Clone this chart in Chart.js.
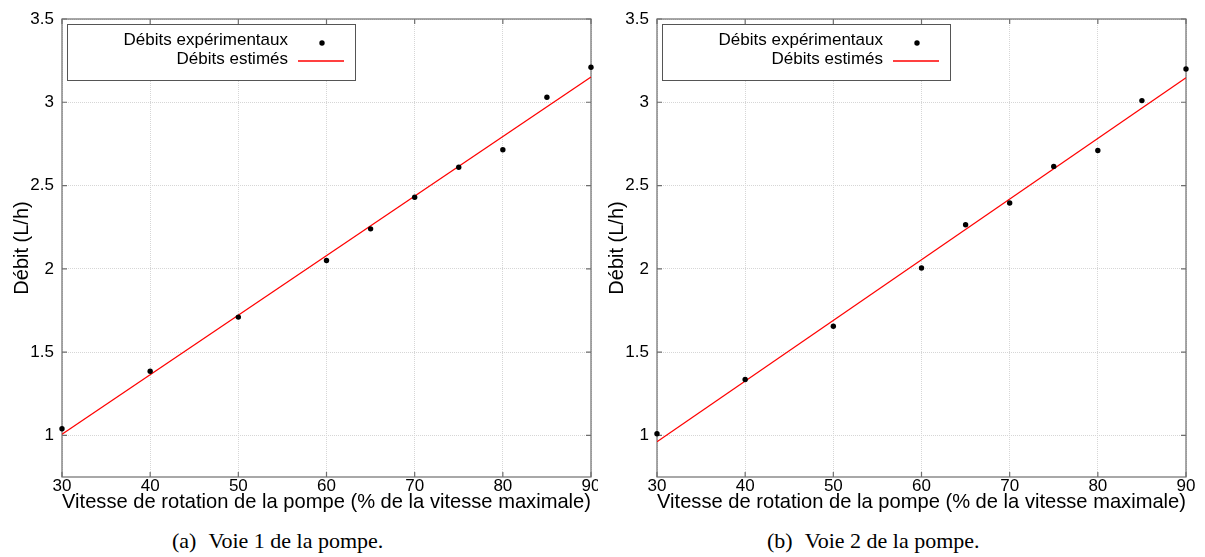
<!DOCTYPE html>
<html>
<head>
<meta charset="utf-8">
<script src="https://cdn.jsdelivr.net/npm/chart.js@4.4.1/dist/chart.umd.min.js"></script>
<style>
    html, body { margin: 0; padding: 0; background: #fff; }
    body { width: 1205px; height: 557px; position: relative; overflow: hidden; }
    .panel { position: absolute; top: 0; height: 520px; overflow: hidden; }
    .caption {
        position: absolute; top: 528px;
        font-family: "Liberation Serif", serif; font-size: 22px; line-height: 26px;
        white-space: nowrap; color: #000;
    }
    .caption span { margin-left: 12px; }
</style>
</head>
<body>
<div class="panel" style="left:0;width:598px"><canvas id="voie1" width="610" height="520"></canvas></div>
<div class="panel" style="left:595px;width:610px"><canvas id="voie2" width="610" height="520"></canvas></div>
<div class="caption" style="left:172px">(a)<span>Voie 1 de la pompe.</span></div>
<div class="caption" style="left:767px">(b)<span>Voie 2 de la pompe.</span></div>
<script>
// values
const vitesses = [30, 40, 50, 60, 65, 70, 75, 80, 85, 90];
const debitsVoie1 = [1.04, 1.385, 1.71, 2.05, 2.24, 2.43, 2.61, 2.715, 3.03, 3.21];
const debitsVoie2 = [1.01, 1.335, 1.655, 2.005, 2.265, 2.395, 2.615, 2.71, 3.01, 3.20];
const bornesFit = [30, 90];
const estimesVoie1 = [1.007, 3.152];
const estimesVoie2 = [0.962, 3.147];
const xTicks = [30, 40, 50, 60, 70, 80, 90];
const yTicks = [1, 1.5, 2, 2.5, 3, 3.5];
const labelExp = 'Débits expérimentaux';
const labelEst = 'Débits estimés';
const xTitle = 'Vitesse de rotation de la pompe (% de la vitesse maximale)';
const yTitle = 'Débit (L/h)';

const FONT = '"Liberation Sans", Arial, sans-serif';
const FRAME = '#6e6e6e';
const GRID = '#d6d6d6';
const POINT_COLOR = '#000000';
const FIT_COLOR = '#ff0000';

// gnuplot-like frame with inward ticks on all four sides
const framePlugin = {
    id: 'frame',
    beforeDatasetsDraw(chart) {
        const { ctx, chartArea: a, scales } = chart;
        ctx.save();
        ctx.strokeStyle = FRAME;
        ctx.lineWidth = 1.2;
        ctx.strokeRect(a.left, a.top, a.right - a.left, a.bottom - a.top);
        ctx.beginPath();
        xTicks.forEach(v => {
            const x = scales.x.getPixelForValue(v);
            ctx.moveTo(x, a.bottom); ctx.lineTo(x, a.bottom - 5);
            ctx.moveTo(x, a.top); ctx.lineTo(x, a.top + 5);
        });
        yTicks.forEach(v => {
            const y = scales.y.getPixelForValue(v);
            ctx.moveTo(a.left, y); ctx.lineTo(a.left + 5, y);
            ctx.moveTo(a.right, y); ctx.lineTo(a.right - 5, y);
        });
        ctx.stroke();
        ctx.restore();
    }
};

// legend box: text right-aligned, sample on the right
const legendPlugin = {
    id: 'boxLegend',
    afterDraw(chart) {
        const { ctx, chartArea: a } = chart;
        const [pts, fit] = chart.data.datasets;
        const bx = Math.round(a.left) + 5, by = Math.round(a.top) + 5;
        ctx.save();
        ctx.fillStyle = '#fff';
        ctx.fillRect(bx, by, 288, 56);
        ctx.strokeStyle = '#555';
        ctx.lineWidth = 1;
        ctx.strokeRect(bx + 0.5, by + 0.5, 288, 56);
        ctx.fillStyle = '#000';
        ctx.font = '17px ' + FONT;
        ctx.textAlign = 'right';
        ctx.textBaseline = 'alphabetic';
        ctx.fillText(pts.label, bx + 221, by + 21);
        ctx.fillText(fit.label, bx + 221, by + 40);
        ctx.beginPath();
        ctx.arc(bx + 255, by + 19, 2.7, 0, Math.PI * 2);
        ctx.fillStyle = POINT_COLOR;
        ctx.fill();
        ctx.beginPath();
        ctx.moveTo(bx + 231, by + 37);
        ctx.lineTo(bx + 277, by + 37);
        ctx.strokeStyle = FIT_COLOR;
        ctx.lineWidth = 1.3;
        ctx.stroke();
        ctx.restore();
    }
};

function makeChart(id, debits, estimes) {
    const ctx = document.getElementById(id).getContext('2d');
    return new Chart(ctx, {
        type: 'scatter',
        data: {
            datasets: [{
                label: labelExp,
                data: vitesses.map((v, i) => ({ x: v, y: debits[i] })),
                backgroundColor: POINT_COLOR,
                borderWidth: 0,
                pointRadius: 2.7,
                clip: false
            }, {
                label: labelEst,
                data: bornesFit.map((v, i) => ({ x: v, y: estimes[i] })),
                showLine: true,
                borderColor: FIT_COLOR,
                borderWidth: 1.2,
                pointRadius: 0
            }]
        },
        options: {
            responsive: false,
            animation: false,
            devicePixelRatio: 1,
            layout: { padding: { left: 0, right: 19, top: 19, bottom: 0 } },
            plugins: {
                legend: { display: false },
                tooltip: { enabled: false }
            },
            scales: {
                x: {
                    type: 'linear',
                    min: 30,
                    max: 90,
                    afterBuildTicks: scale => { scale.ticks = xTicks.map(v => ({ value: v })); },
                    afterFit: scale => { scale.height = 43; },
                    grid: { color: GRID, lineWidth: 1, drawTicks: false },
                    border: { display: false, dash: [1, 1] },
                    ticks: {
                        color: '#000',
                        padding: 1,
                        maxRotation: 0,
                        font: { family: FONT, size: 17, lineHeight: 1 },
                        callback: v => String(v)
                    },
                    title: {
                        display: true,
                        text: xTitle,
                        color: '#000',
                        font: { family: FONT, size: 20.2, lineHeight: 1.2 },
                        padding: { top: 0, bottom: 5 }
                    }
                },
                y: {
                    type: 'linear',
                    min: 0.75,
                    max: 3.5,
                    afterBuildTicks: scale => { scale.ticks = yTicks.map(v => ({ value: v })); },
                    afterFit: scale => { scale.width = 62; },
                    grid: { color: GRID, lineWidth: 1, drawTicks: false },
                    border: { display: false, dash: [1, 1] },
                    ticks: {
                        color: '#000',
                        padding: 8,
                        font: { family: FONT, size: 17, lineHeight: 1 },
                        callback: v => String(v)
                    },
                    title: {
                        display: true,
                        text: yTitle,
                        color: '#000',
                        font: { family: FONT, size: 20, lineHeight: 1.2 },
                        padding: { top: 10, bottom: 0 }
                    }
                }
            }
        },
        plugins: [framePlugin, legendPlugin]
    });
}

makeChart('voie1', debitsVoie1, estimesVoie1);
makeChart('voie2', debitsVoie2, estimesVoie2);
</script>
</body>
</html>
